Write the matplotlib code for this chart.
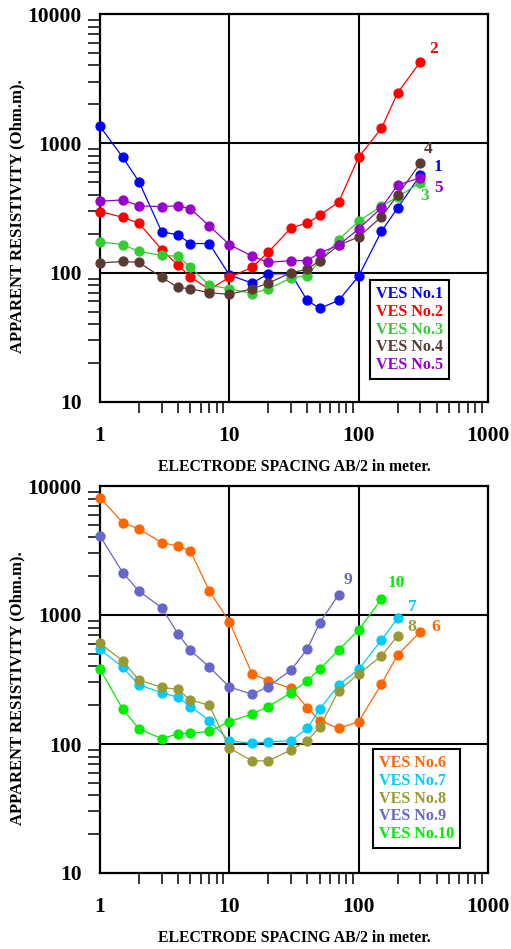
import numpy as np
import matplotlib
matplotlib.use('Agg')
import matplotlib.pyplot as plt
from matplotlib.ticker import LogLocator, NullFormatter
from matplotlib.lines import Line2D

# ── data ──────────────────────────────────────────────────
AB2 = [1, 1.5, 2, 3, 4, 5, 7, 10, 15, 20, 30, 40, 50, 70, 100, 150, 200, 300]

# top panel (VES 1-5)
ves1 = [1350, 780, 505, 207, 196, 168, 168, 96, 83, 98, 98, 61, 53, 61, 94, 209, 316, 568]
ves2 = [297, 268, 241, 151, 114, 93, 74, 92, 110, 144, 222, 242, 278, 351, 783, 1307, 2455, 4267]
ves3 = [173, 165, 146, 136, 134, 110, 80, 75, 69, 75, 91, 95, 123, 180, 250, 327, 386, 496]
ves4 = [119, 122, 120, 92, 77, 75, 70, 68, 75, 83, 100, 106, 124, 163, 189, 270, 398, 703]
ves5 = [357, 365, 329, 324, 329, 312, 230, 165, 134, 120, 124, 124, 142, 163, 218, 318, 475, 542]

# bottom panel (VES 6-10)
ves6 = [8110, 5200, 4640, 3640, 3430, 3130, 1540, 887, 349, 310, 270, 191, 152, 132, 149, 292, 490, 743]
ves7 = [542, 393, 287, 250, 230, 195, 152, 106, 101, 104, 106, 132, 186, 287, 379, 640, 942]
ves8 = [604, 440, 313, 275, 265, 219, 200, 93, 74, 74, 90, 106, 135, 259, 349, 481, 691]
ves9 = [4100, 2130, 1530, 1140, 716, 532, 395, 277, 243, 278, 375, 542, 872, 1437]
ves10 = [379, 186, 131, 110, 120, 121, 125, 149, 171, 195, 250, 310, 381, 535, 765, 1331]

top_series = [ves1, ves2, ves3, ves4, ves5]
top_names = ["VES No.1", "VES No.2", "VES No.3", "VES No.4", "VES No.5"]
top_tags = ["1", "2", "3", "4", "5"]
top_colors = ["#0000FF", "#FF0000", "#33CC33", "#5C3A34", "#9900CC"]
# end-label offsets (pixels) from last point
top_offs = [(18, 8), (13, 13), (4, -13), (8, 14), (18, -10)]

bot_series = [ves6, ves7, ves8, ves9, ves10]
bot_names = ["VES No.6", "VES No.7", "VES No.8", "VES No.9", "VES No.10"]
bot_tags = ["6", "7", "8", "9", "10"]
bot_colors = ["#FF6600", "#00CCFF", "#999933", "#6666CC", "#00EE00"]
bot_offs = [(15, 5), (15, 11), (14, 9), (9, 15), (15, 16)]

X_TICKS = [1, 10, 100, 1000]
Y_TICKS = [10, 100, 1000, 10000]

FONT = "Liberation Serif"
W, H = 511, 949

fig = plt.figure(figsize=(W / 100, H / 100), dpi=100)
ax1 = fig.add_axes([100 / W, 1 - 402 / H, 388 / W, 388 / H])
ax2 = fig.add_axes([100 / W, 1 - 873 / H, 388 / W, 387 / H])


def panel(ax, series, names, tags, colors, offs, leg_xy):
    for vals, tag, c, off in zip(series, tags, colors, offs):
        xs = AB2[:len(vals)]
        ax.plot(xs, vals, color=c, lw=0.9, marker="o", ms=6.4,
                mec=c, mfc=c, zorder=3, clip_on=False)
        ax.annotate(tag, (xs[-1], vals[-1]), xytext=off,
                    textcoords="offset pixels", ha="center", va="center",
                    color=c, fontsize=12.5, fontweight="bold", family=FONT)

    ax.set_xscale("log")
    ax.set_yscale("log")
    ax.set_xlim(1, 1000)
    ax.set_ylim(10, 10000)

    # grid only at the inner decades
    for v in X_TICKS[1:-1]:
        ax.axvline(v, color="black", lw=1.5, zorder=1)
    for v in Y_TICKS[1:-1]:
        ax.axhline(v, color="black", lw=1.5, zorder=1)

    for s in ax.spines.values():
        s.set_linewidth(1.6)

    ax.set_xticks(X_TICKS, [str(v) for v in X_TICKS])
    ax.set_yticks(Y_TICKS, [str(v) for v in Y_TICKS])
    ax.xaxis.set_minor_locator(LogLocator(base=10, subs=np.arange(2, 10)))
    ax.yaxis.set_minor_locator(LogLocator(base=10, subs=np.arange(2, 10)))
    ax.xaxis.set_minor_formatter(NullFormatter())
    ax.yaxis.set_minor_formatter(NullFormatter())
    ax.tick_params(which="major", length=0)
    ax.tick_params(axis="x", which="major", pad=17)
    ax.tick_params(axis="y", which="major", pad=13)
    ax.tick_params(axis="x", which="minor", direction="out", length=8, width=1.1)
    ax.tick_params(axis="y", which="minor", direction="out", length=8.6, width=1.1)
    for lab in ax.get_xticklabels() + ax.get_yticklabels():
        lab.set_fontfamily(FONT)
        lab.set_fontweight("bold")
        lab.set_fontsize(15.5)

    ax.set_xlabel("ELECTRODE SPACING AB/2 in meter.", family=FONT,
                  fontweight="bold", fontsize=11.3)
    ax.xaxis.set_label_coords(0.5, -0.146)
    ax.set_ylabel("APPARENT RESISTIVITY (Ohm.m).", family=FONT,
                  fontweight="bold", fontsize=12)
    ax.yaxis.set_label_coords(-0.193, 0.478)

    handles = [Line2D([], [], color=c, lw=0) for c in colors]
    leg = ax.legend(handles, names, loc="upper left", bbox_to_anchor=leg_xy,
                    borderaxespad=0, handlelength=0, handletextpad=0,
                    labelcolor=colors, frameon=True, fancybox=False,
                    framealpha=1, edgecolor="black", labelspacing=0.1,
                    borderpad=0.38,
                    prop={"family": FONT, "weight": "bold", "size": 11.6})
    leg.get_frame().set_linewidth(1.5)
    leg.set_zorder(5)


panel(ax1, top_series, top_names, top_tags, top_colors, top_offs, (0.696, 0.314))
panel(ax2, bot_series, bot_names, bot_tags, bot_colors, bot_offs, (0.703, 0.320))

fig.savefig("out.png", dpi=100)
plt.close(fig)
